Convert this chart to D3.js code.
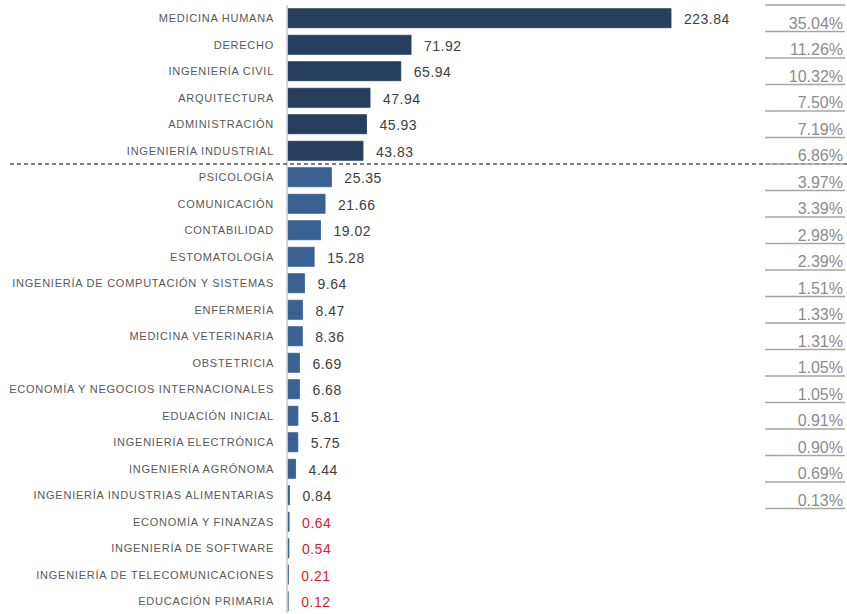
<!DOCTYPE html>
<html>
<head>
  <meta charset="utf-8">
  <title>Carreras</title>
  <script src="https://cdn.jsdelivr.net/npm/d3@7"></script>
  <style>
    body { margin: 0; background: #fff; }
    svg text { font-family: "Liberation Sans", Arial, sans-serif; }
  </style>
</head>
<body>
  <div id="chart"></div>
  <script>
    // data
    var carreras = [
      "MEDICINA HUMANA", "DERECHO", "INGENIERÍA CIVIL", "ARQUITECTURA",
      "ADMINISTRACIÓN", "INGENIERÍA INDUSTRIAL", "PSICOLOGÍA", "COMUNICACIÓN",
      "CONTABILIDAD", "ESTOMATOLOGÍA", "INGENIERÍA DE COMPUTACIÓN Y SISTEMAS",
      "ENFERMERÍA", "MEDICINA VETERINARIA", "OBSTETRICIA",
      "ECONOMÍA Y NEGOCIOS INTERNACIONALES", "EDUACIÓN INICIAL",
      "INGENIERÍA ELECTRÓNICA", "INGENIERÍA AGRÓNOMA",
      "INGENIERÍA INDUSTRIAS ALIMENTARIAS", "ECONOMÍA Y FINANZAS",
      "INGENIERÍA DE SOFTWARE", "INGENIERÍA DE TELECOMUNICACIONES",
      "EDUCACIÓN PRIMARIA"
    ];
    var valores = [223.84, 71.92, 65.94, 47.94, 45.93, 43.83, 25.35, 21.66,
      19.02, 15.28, 9.64, 8.47, 8.36, 6.69, 6.68, 5.81, 5.75, 4.44, 0.84,
      0.64, 0.54, 0.21, 0.12];
    var porcentajes = ["35.04%", "11.26%", "10.32%", "7.50%", "7.19%", "6.86%",
      "3.97%", "3.39%", "2.98%", "2.39%", "1.51%", "1.33%", "1.31%", "1.05%",
      "1.05%", "0.91%", "0.90%", "0.69%", "0.13%"];
    var grupoAlto = 6;      // first rows, dark bars, above the dashed line
    var valoresRojos = 4;   // last rows with red labels

    var w = 847, h = 614;
    var data = carreras.map(function(c, i) {
      return {name: c, value: valores[i], pct: porcentajes[i], i: i};
    });

    var svg = d3.select("#chart").append("svg")
      .attr("width", w)
      .attr("height", h);

    var y = d3.scaleBand()
      .domain(carreras)
      .range([5, 614.5])
      .paddingInner(0.28)
      .paddingOuter(0.14);

    var x = d3.scaleLinear()
      .domain([0, d3.max(valores)])
      .range([288, 671]);

    var color = function(d) { return d.i < grupoAlto ? "#263f5f" : "#3a6194"; };

    // bars
    svg.selectAll("rect.bar")
      .data(data)
      .enter()
      .append("rect")
      .attr("class", "bar")
      .attr("x", x(0))
      .attr("y", function(d) { return y(d.name); })
      .attr("width", function(d) { return x(d.value) - x(0); })
      .attr("height", y.bandwidth())
      .attr("fill", color)
      .attr("stroke", color)
      .attr("stroke-width", 0.8);

    // vertical axis line
    svg.append("line")
      .attr("x1", x(0) - 1).attr("x2", x(0) - 1)
      .attr("y1", 5).attr("y2", 613)
      .attr("stroke", "#c8c8c8")
      .attr("stroke-width", 1.5);

    // category labels
    svg.selectAll("text.cat")
      .data(data)
      .enter()
      .append("text")
      .attr("class", "cat")
      .attr("x", 274)
      .attr("y", function(d) { return y(d.name) + y.bandwidth() / 2; })
      .attr("dy", "0.35em")
      .attr("text-anchor", "end")
      .attr("font-size", "11px")
      .attr("letter-spacing", "0.75px")
      .attr("fill", "#595959")
      .text(function(d) { return d.name; });

    // value labels
    svg.selectAll("text.val")
      .data(data)
      .enter()
      .append("text")
      .attr("class", "val")
      .attr("x", function(d) { return x(d.value) + 13; })
      .attr("y", function(d) { return y(d.name) + y.bandwidth() / 2 + 1; })
      .attr("dy", "0.35em")
      .attr("font-size", "14px")
      .attr("letter-spacing", "0.5px")
      .attr("fill", function(d) {
        return d.i >= carreras.length - valoresRojos ? "#e0202a" : "#404040";
      })
      .text(function(d) { return d3.format(".2f")(d.value); });

    // dashed separator
    var ySep = y(carreras[grupoAlto]) - y.step() * y.paddingInner() / 2;
    svg.append("line")
      .attr("x1", 10).attr("x2", w)
      .attr("y1", ySep).attr("y2", ySep)
      .attr("stroke", "#555")
      .attr("stroke-width", 1.5)
      .attr("stroke-dasharray", "4,3");

    // percentage column with underlines
    var conPct = data.filter(function(d) { return d.pct; });
    var bottomOf = function(d) { return y(d.name) - y.step() * y.paddingInner() / 2 + y.step(); };

    svg.append("line")
      .attr("x1", 765).attr("x2", 845)
      .attr("y1", 5).attr("y2", 5)
      .attr("stroke", "#a6a6a6")
      .attr("stroke-width", 1.5);

    svg.selectAll("line.pct")
      .data(conPct)
      .enter()
      .append("line")
      .attr("class", "pct")
      .attr("x1", 765).attr("x2", 845)
      .attr("y1", bottomOf).attr("y2", bottomOf)
      .attr("stroke", "#a6a6a6")
      .attr("stroke-width", 1.5);

    svg.selectAll("text.pct")
      .data(conPct)
      .enter()
      .append("text")
      .attr("class", "pct")
      .attr("x", 843)
      .attr("y", function(d) { return bottomOf(d) - 3; })
      .attr("text-anchor", "end")
      .attr("font-size", "16px")
      .attr("fill", "#8c8c8c")
      .text(function(d) { return d.pct; });
  </script>
</body>
</html>
